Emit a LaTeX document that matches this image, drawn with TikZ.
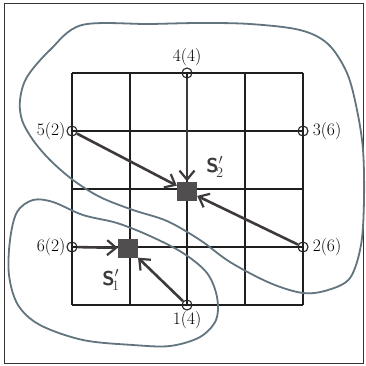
\documentclass[tikz,border=0pt]{standalone}
\usetikzlibrary{arrows.meta}
\definecolor{bluegray}{RGB}{98,116,126}
\definecolor{ink}{RGB}{62,58,60}
\begin{document}
\begin{tikzpicture}[x=1pt,y=-1pt,
 gridline/.style={line width=1.5pt, draw=black!88},
 term/.style={circle, draw=black!85, line width=1.1pt, minimum size=10pt, inner sep=0pt},
 lbl/.style={font=\fontsize{17.5}{20}\selectfont, inner sep=1pt},
 hub/.style={fill=ink!90, minimum width=20pt, minimum height=19pt, inner sep=0pt},
 flow/.style={line width=2.6pt, draw=ink, -{Straight Barb[length=9pt,width=15pt,line width=2.2pt]}},
 outline/.style={line width=1.8pt, draw=bluegray},
 hand/.style={font=\sffamily\bfseries\fontsize{20}{22}\selectfont, text=ink, inner sep=0pt},
 ]
\useasboundingbox (0,0) rectangle (366,365);
\fill[white] (0,0) rectangle (366,365);
\draw[line width=0.9pt, black!80] (4,3) rectangle (363,363);
% grid
\foreach \x in {72,130,187,245,303} {
  \draw[gridline] (\x,73) -- (\x,305);
}
\foreach \y in {73,131,189,247,305} {
  \draw[gridline] (72,\y) -- (303,\y);
}
% hand-drawn regions
\draw[outline] plot[smooth cycle, tension=0.55] coordinates {
 (82,25) (150,24) (200,23) (250,24) (300,30) (328,44) (347,73) (357,110) (363,150)
 (364,200) (361,245) (350,278) (328,290) (303,293) (270,283) (230,262) (200,240)
 (167,221) (133,210) (100,197) (73,180) (50,160) (33,140) (22,120) (20,100) (27,77) (50,50)};
\draw[outline] plot[smooth cycle, tension=0.55] coordinates {
 (33,200) (53,202) (83,215) (117,223) (150,236) (183,253) (207,273) (217,297) (216,320)
 (200,337) (170,346) (133,345) (83,340) (40,325) (18,305) (9,275) (10,240) (17,212)};
% terminals
\node[term] (n4) at (187,73) {};
\node[term] (n5) at (72,131) {};
\node[term] (n3) at (303,131) {};
\node[term] (n6) at (72,247) {};
\node[term] (n2) at (303,247) {};
\node[term] (n1) at (187,305) {};
\node[lbl, anchor=south] (t4) at (n4.north) {4(4)};
\node[lbl, anchor=east] (t5) at (n5.west) {5(2)};
\node[lbl, anchor=west] (t3) at ([xshift=3pt]n3.east) {3(6)};
\node[lbl, anchor=east] (t6) at (n6.west) {6(2)};
\node[lbl, anchor=west] (t2) at ([xshift=3pt]n2.east) {2(6)};
\node[lbl, anchor=north] (t1) at (n1.south) {1(4)};
% hubs
\node[hub] (s2) at (187,191) {};
\node[hub] (s1) at (128,248) {};
\node[hand] (l2) at (215,167) {S$'_{\!2}$};
\node[hand] (l1) at (111,280) {S$'_{\!1}$};
% flows
\draw[flow] (n4) -- (s2);
\draw[flow] (n5) -- (s2);
\draw[flow] (n2) -- (s2);
\draw[flow] (n6) -- (s1);
\draw[flow] (n1) -- (s1);
\end{tikzpicture}
\end{document}
